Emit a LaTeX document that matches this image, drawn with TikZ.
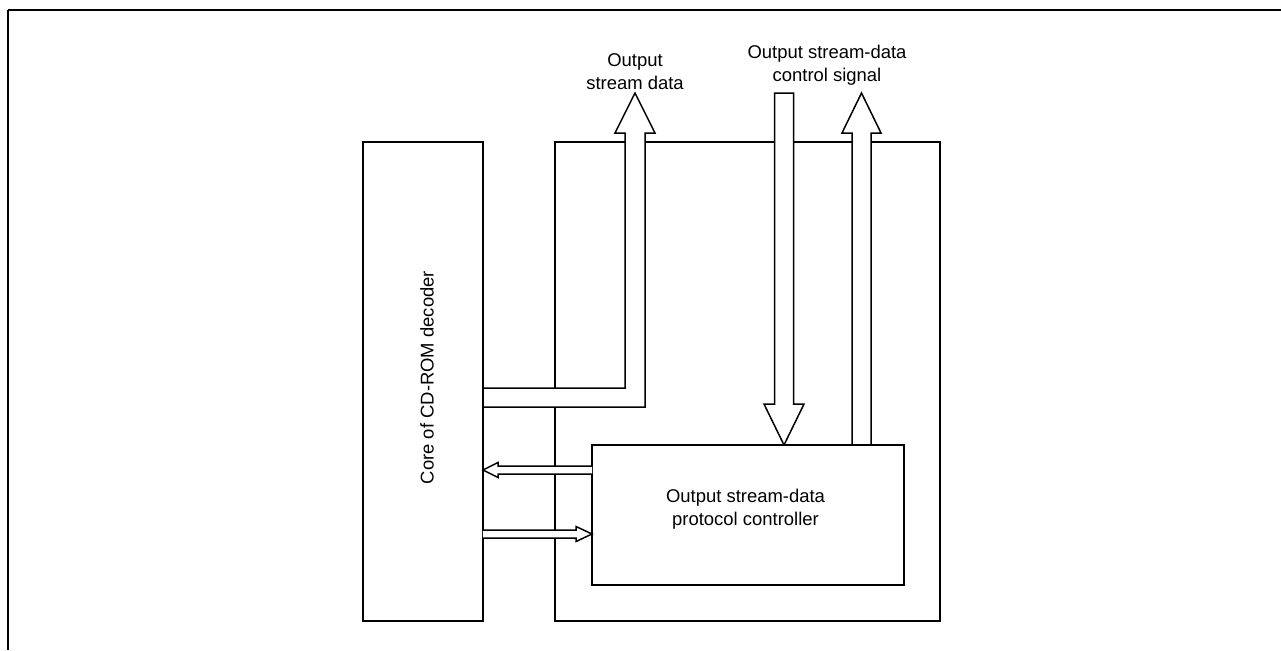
\documentclass[tikz,border=0pt]{standalone}
\usepackage{fontspec}
\setmainfont{Liberation Sans}
\usepackage{tikz}
\usetikzlibrary{calc}
\tikzset{
  block/.style={rectangle,draw=black,line width=1.6pt,outer sep=0pt,inner sep=0pt,fill=white},
  hollow/.style={draw=black,line width=0.85pt,fill=white,line join=miter},
  sig/.style={font=\fontsize{10.5}{13}\selectfont,align=center,inner sep=0pt}
}

\begin{document}
\begin{tikzpicture}[x=0.02cm,y=-0.02cm]
  \useasboundingbox (0,0) rectangle (1281,650);
  % frame
  \draw[line width=1.6pt] (8,10) -- (1281,10);
  \draw[line width=0.7pt] (8,10) -- (8,650);

  \node[block,minimum width=7.7cm,minimum height=9.58cm] (unit) at (747.5,381.5) {};

  \node[sig] (sdlabel) at (635,72) {Output\\stream data};
  \node[sig] (cslabel) at (827,65) {Output stream-data\\control signal};
  \coordinate (sdtip) at (635,93);
  \coordinate (uptip) at (861.5,93);

  % output stream data
  \draw[hollow] (483,388) -- (625,388) -- (625,133) -- (615,133) -- (sdtip)
    -- (655,133) -- (645,133) -- (645,407) -- (483,407);
  % control signal in
  \draw[hollow] (774.5,93) -- (793.5,93) -- (793.5,404) -- (804,404) -- (784,445)
    -- (764,404) -- (774.5,404) -- cycle;
  % control signal out
  \draw[hollow] (852,445) -- (852,133) -- (842,133) -- (uptip) -- (881,133)
    -- (871,133) -- (871,445);

  \node[block,minimum width=2.4cm,minimum height=9.58cm] (core) at (423,381.5) {};
  \node[sig,rotate=90] (corelabel) at ([xshift=0.08cm,yshift=0.08cm]core.center) {Core of CD-ROM decoder};

  \node[block,minimum width=6.24cm,minimum height=2.8cm] (ctrl) at (748,515) {};
  \node[sig] (ctrllabel) at ([xshift=-0.05cm,yshift=0.12cm]ctrl.center) {Output stream-data\\protocol controller};

  % handshake
  \draw[hollow] (ctrl.west |- 0,466) -- (498,466) -- (498,462.5) -- (core.east |- 0,470)
    -- (498,477.5) -- (498,474) -- (ctrl.west |- 0,474);
  \draw[hollow] (core.east |- 0,530) -- (576,530) -- (576,526.5) -- (ctrl.west |- 0,534)
    -- (576,541.5) -- (576,538) -- (core.east |- 0,538);
\end{tikzpicture}
\end{document}
